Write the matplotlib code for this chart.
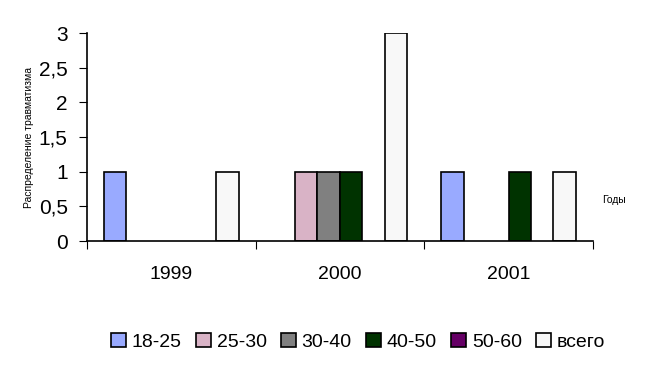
import matplotlib.pyplot as plt
import numpy as np

plt.rcParams['font.family'] = ['Liberation Sans', 'DejaVu Sans']

years = ["1999", "2000", "2001"]
series = ["18-25", "25-30", "30-40", "40-50", "50-60", "всего"]
values = [
    [1, 0, 1],  # 18-25
    [0, 1, 0],  # 25-30
    [0, 1, 0],  # 30-40
    [0, 1, 1],  # 40-50
    [0, 0, 0],  # 50-60
    [1, 3, 1],  # всего
]
colors = ["#99AAFF", "#D9B3C6", "#808080", "#003300", "#660066", "#F8F8F8"]

fig = plt.figure(figsize=(6.5, 3.67), dpi=100)
ax = fig.add_axes([0.134, 0.343, 0.778, 0.567])

w = 1 / 7.5
x = np.arange(len(years))
for i, (name, vals) in enumerate(zip(series, values)):
    pos = x - 0.5 + 0.75 * w + (i + 0.5) * w
    h = np.array(vals, dtype=float)
    h[h == 0] = np.nan  # no outline for empty bars
    ax.bar(pos, h, width=w, color=colors[i], edgecolor="black",
           linewidth=1.2, label=name)

ax.set_xlim(-0.5, 2.5)
ax.set_ylim(0, 3)
ax.set_yticks(np.arange(0, 3.01, 0.5))
ax.set_yticklabels(["0", "0,5", "1", "1,5", "2", "2,5", "3"], fontsize=15)
ax.set_xticks([-0.5, 0.5, 1.5, 2.5])
ax.set_xticklabels([])
ax.set_xticks(x, minor=True)
ax.set_xticklabels(years, minor=True, fontsize=14)
ax.tick_params(axis="x", which="minor", length=0, pad=18)
ax.tick_params(axis="x", which="major", length=6, direction="out")
ax.tick_params(axis="y", length=6, direction="out", pad=8)
for s in ["top", "right"]:
    ax.spines[s].set_visible(False)
ax.spines["left"].set_linewidth(1.2)
ax.spines["bottom"].set_linewidth(1.2)

ax.set_ylabel("Распределение травматизма", fontsize=7.5, labelpad=3)
fig.text(0.945, 0.455, "Годы", fontsize=7.5, ha="center", va="center")

fig.legend(loc="center", bbox_to_anchor=(0.551, 0.068), ncol=6, frameon=False,
           fontsize=14, handlelength=0.75, handleheight=0.75, handletextpad=0.3,
           columnspacing=0.75)

fig.savefig("out.png", dpi=100)
